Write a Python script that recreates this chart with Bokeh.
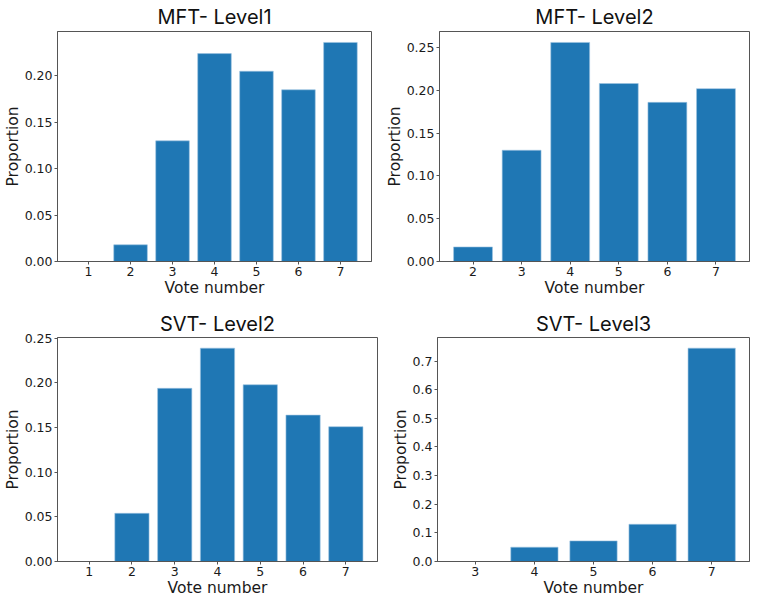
from bokeh.plotting import figure
from bokeh.layouts import column, row
from bokeh.models import FixedTicker, NumeralTickFormatter, Range1d
from bokeh.embed import file_html
from bokeh.resources import INLINE

# ---- data ----
titles = ["MFT- Level1", "MFT- Level2", "SVT- Level2", "SVT- Level3"]
mft1_votes = [1, 2, 3, 4, 5, 6, 7]
mft1_prop = [0.0, 0.018, 0.130, 0.224, 0.205, 0.185, 0.236]
mft2_votes = [2, 3, 4, 5, 6, 7]
mft2_prop = [0.017, 0.130, 0.256, 0.208, 0.186, 0.202]
svt2_votes = [1, 2, 3, 4, 5, 6, 7]
svt2_prop = [0.0, 0.054, 0.194, 0.239, 0.198, 0.164, 0.151]
svt3_votes = [3, 4, 5, 6, 7]
svt3_prop = [0.0, 0.050, 0.072, 0.130, 0.745]
yticks_a = [0.0, 0.05, 0.10, 0.15, 0.20]
yticks_b = [0.0, 0.05, 0.10, 0.15, 0.20, 0.25]
yticks_c = [0.0, 0.1, 0.2, 0.3, 0.4, 0.5, 0.6, 0.7]

BAR = "#1f77b4"
TXT = "#1a1a1a"
SPINE = "#555555"
TICKFONT = "DejaVu Sans"
TITLEFONT = "Inter"


def panel(title, votes, props, yticks, fmt, fw, fh, bl, bt, br, bb, standoff):
    width = 0.8
    lo = min(votes) - width / 2
    hi = max(votes) + width / 2
    m = 0.05 * (hi - lo)
    p = figure(frame_width=fw, frame_height=fh, output_backend="svg",
               toolbar_location=None, tools="",
               x_range=Range1d(lo - m, hi + m),
               y_range=Range1d(0, max(props) * 1.05),
               min_border_left=bl, min_border_top=bt,
               min_border_right=br, min_border_bottom=bb)
    p.vbar(x=votes, top=props, width=width, fill_color=BAR,
           line_color="#9cc3e0", line_width=0.6)
    p.title.text = title
    p.title.align = "center"
    p.title.text_font = TITLEFONT
    p.title.text_font_size = "20px"
    p.title.text_font_style = "normal"
    p.title.text_color = "#111111"
    p.title.standoff = standoff
    p.xgrid.visible = False
    p.ygrid.visible = False
    p.outline_line_color = SPINE
    p.outline_line_width = 1
    p.background_fill_color = "white"
    p.border_fill_color = "white"
    p.xaxis.ticker = FixedTicker(ticks=votes)
    p.yaxis.ticker = FixedTicker(ticks=yticks)
    p.yaxis.formatter = NumeralTickFormatter(format=fmt)
    p.xaxis.axis_label = "Vote number"
    p.yaxis.axis_label = "Proportion"
    for ax in (p.xaxis[0], p.yaxis[0]):
        ax.axis_line_color = SPINE
        ax.major_tick_line_color = SPINE
        ax.major_tick_out = 3
        ax.major_tick_in = 0
        ax.minor_tick_line_color = None
        ax.major_label_text_font = TICKFONT
        ax.major_label_text_font_size = "12.5px"
        ax.major_label_text_color = TXT
        ax.major_label_standoff = 2
        ax.axis_label_text_font = TICKFONT
        ax.axis_label_text_font_size = "15.5px"
        ax.axis_label_text_font_style = "normal"
        ax.axis_label_text_color = TXT
        ax.axis_label_standoff = 0
    return p


p1 = panel(titles[0], mft1_votes, mft1_prop, yticks_a, "0.00", 314, 230, 46, 27, 8, 30, 5)
p2 = panel(titles[1], mft2_votes, mft2_prop, yticks_b, "0.00", 310, 230, 60, 27, 2, 30, 5)
p3 = panel(titles[2], svt2_votes, svt2_prop, yticks_b, "0.00", 320, 224, 48, 38, 2, 30, 3)
p4 = panel(titles[3], svt3_votes, svt3_prop, yticks_c, "0.0", 312, 224, 58, 38, 2, 30, 3)

layout = column(row(p1, p2), row(p3, p4))
open("out.html", "w").write(file_html(layout, INLINE))
